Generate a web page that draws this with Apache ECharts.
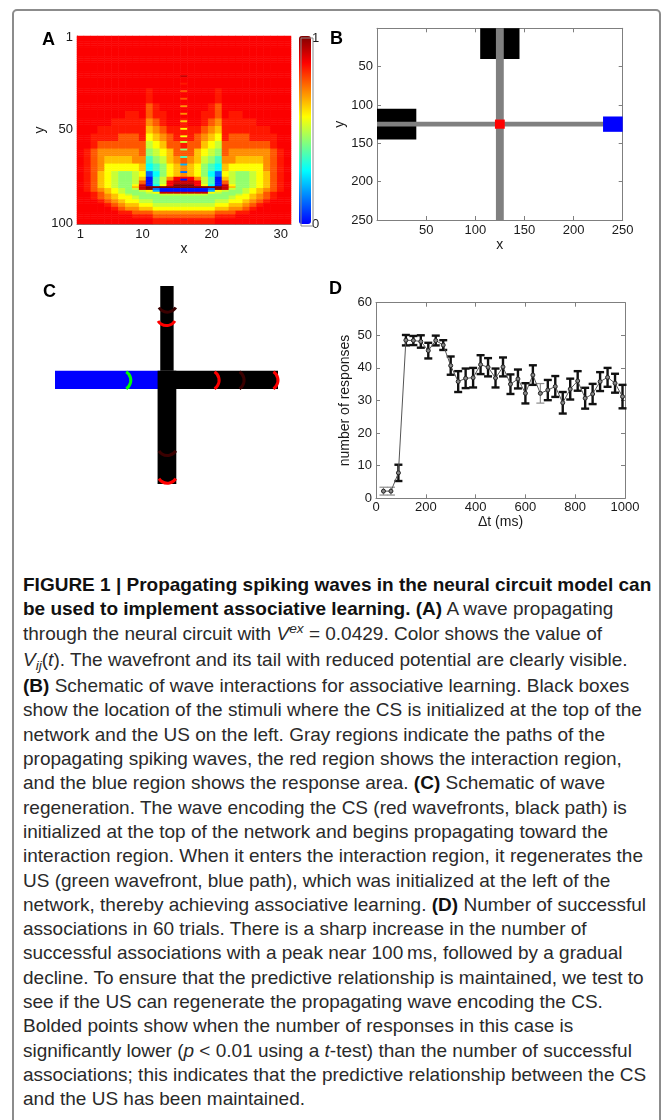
<!DOCTYPE html>
<html>
<head>
<meta charset="utf-8">
<script src="https://cdn.jsdelivr.net/npm/echarts@6/dist/echarts.min.js"></script>
<style>
html,body{margin:0;padding:0;background:#fff;width:671px;height:1120px;overflow:hidden;}
#frame{position:absolute;left:12px;top:9px;width:645px;height:1160px;border:2px solid #8c8c8c;border-radius:5px;}
#container{position:absolute;left:0;top:0;width:671px;height:560px;}
#caption{position:absolute;left:23px;top:573px;font-family:"Liberation Sans Narrow","Liberation Sans",Arial,sans-serif;font-size:19px;line-height:24.3px;color:#2a2a2a;white-space:nowrap;}
#caption b{font-weight:bold;color:#111;}
#caption .up{position:relative;top:-0.45em;font-size:0.72em;}
#caption .dn{position:relative;top:0.3em;font-size:0.72em;}
</style>
</head>
<body>
<div id="frame"></div>
<div id="container"></div>
<div id="caption">
<div><b>FIGURE 1 | Propagating spiking waves in the neural circuit model can</b></div>
<div><b>be used to implement associative learning. (A)</b> A wave propagating</div>
<div>through the neural circuit with <i>V</i><i class="up">ex</i> = 0.0429. Color shows the value of</div>
<div><i>V</i><i class="dn">ij</i>(<i>t</i>). The wavefront and its tail with reduced potential are clearly visible.</div>
<div><b>(B)</b> Schematic of wave interactions for associative learning. Black boxes</div>
<div>show the location of the stimuli where the CS is initialized at the top of the</div>
<div>network and the US on the left. Gray regions indicate the paths of the</div>
<div>propagating spiking waves, the red region shows the interaction region,</div>
<div>and the blue region shows the response area. <b>(C)</b> Schematic of wave</div>
<div>regeneration. The wave encoding the CS (red wavefronts, black path) is</div>
<div>initialized at the top of the network and begins propagating toward the</div>
<div>interaction region. When it enters the interaction region, it regenerates the</div>
<div>US (green wavefront, blue path), which was initialized at the left of the</div>
<div>network, thereby achieving associative learning. <b>(D)</b> Number of successful</div>
<div>associations in 60 trials. There is a sharp increase in the number of</div>
<div>successful associations with a peak near 100&#8201;ms, followed by a gradual</div>
<div>decline. To ensure that the predictive relationship is maintained, we test to</div>
<div>see if the US can regenerate the propagating wave encoding the CS.</div>
<div>Bolded points show when the number of responses in this case is</div>
<div>significantly lower (<i>p</i> &lt; 0.01 using a <i>t</i>-test) than the number of successful</div>
<div>associations; this indicates that the predictive relationship between the CS</div>
<div>and the US has been maintained.</div>
</div>
<script>
// ---------- panel A : V_ij(t) on a 31 x 100 grid ----------
// each row string covers y from heatRowStart[i] up to the next start
// letters are colour levels (see heatLevels), spaces only for reading
var heatRowStart = [1, 21, 25, 29, 33, 37, 41, 45, 49, 53, 57, 61, 65, 69, 73,
    76, 78, 80, 81, 82, 83, 84, 85, 86, 88, 90, 92, 94, 96, 98];
var heatRows = [
    'RRRRR RRRRR RRRRR R RRRRR RRRRR RRRRR',
    'RRRRR RRRRR RRRRR R RRRRR RRRRR RRRRR',
    'RRRRR RRRRR RRRRR R RRRRR RRRRR RRRRR',
    'RRRRR RRRRR rRRRR R RRRRr RRRRR RRRRR',
    'RRRRR RRRRR rRRRR R RRRRr RRRRR RRRRR',
    'RRRRR RRRRR orRRR R RRRro RRRRR RRRRR',
    'RRRRR RRrrR orrRR R RRrro RrrRR RRRRR',
    'RRRRR rrrrr OorRR r RRroO rrrrr RRRRR',
    'RRRrr rrrrr yOorr r rroOy rrrrr rrRRR',
    'RRrrr rooor YyOor r roOyY rooor rrrRR',
    'RRroo ooooo gYyoo r ooyYg ooooo oorRR',
    'RroOO OOOOo GgYyo o oyYgG oOOOO OOorR',
    'RroOy yyyOO cGgyO o OygGc OOyyy yOorR',
    'RroOY YYYYy CcGYy O yYGcC yYYYY YOorR',
    'RroyY gGGgY bCGYy O yYGCb YgGGg YyorR',
    'RroyY gGGgy BcgOR R ROgcB ygGGg YyorR',
    'RroyY gGGgo BcgRd d dRgcB ogGGg YyorR',
    'RroyY gGGYd BCYRD D DRYCB dYGGg YyorR',
    'RroyY gGGyd DDDDD D DDDDD dyGGg YyorR',
    'RroOy YgGgd DbBBB B BBBbD dgGgY yOorR',
    'RroOy YgGGg YlBBB B BBBlY gGGgY yOorR',
    'RRroy YgGGG gYddd d dddYg GGGgY yorRR',
    'RRroO yYgGG GGggg g gggGG GGgYy OorRR',
    'RRroO yYYgG GGGGG G GGGGG GgYYy OorRR',
    'RRRro OyYYg gGGGG G GGGGg gYYyO orRRR',
    'RRRRr oOyyY Ygggg g ggggY YyyOo rRRRR',
    'RRRRR roOOy yYYYY Y YYYYy yOOor RRRRR',
    'RRRRR Rrroo oOOOO O OOOOo oorrR RRRRR',
    'RRRRR RRRrr roooo o oooor rrRRR RRRRR',
    'RRRRR RRRRR Rrrrr r rrrrR RRRRR RRRRR'
];
// short dashes in the centre column (x = 16)
var heatDashX = 16;
var heatDashY = [22, 26, 30, 34, 38, 42, 46, 50, 54, 57, 61, 65, 69, 73, 77];
var heatDashCode = 'drooOOyYYgGclbB';
var heatLevels = {B: 0.02, b: 0.12, l: 0.2, C: 0.29, c: 0.36, G: 0.45, g: 0.51, Y: 0.57,
    y: 0.64, O: 0.70, o: 0.76, r: 0.83, R: 0.86, d: 0.92, D: 1.0};
var jetColors = ['#0000ff', '#0080ff', '#00ffff', '#80ff80', '#ffff00', '#ff8000', '#ff0000', '#800000'];
var aTickX = ['1', '10', '20', '30'];
var aTickY = ['1', '50', '100'];

// ---------- panel B : network schematic (x0, y0, x1, y1) ----------
var bStimuli = [[105, 0, 145, 40], [0, 105, 40, 145]];
var bPaths = [[0, 122, 232, 128], [121, 0, 129, 250]];
var bInteraction = [[120, 119, 130, 131]];
var bResponse = [[230, 115, 250, 135]];

// ---------- panel C : wave regeneration (x0, y0, x1, y1) ----------
var cBluePath = [[0, 107, 118, 130]];
var cBlackPath = [[118, 107, 250, 130], [118, 0, 133, 107], [115, 107, 136, 250]];
// fronts: tip x, tip y, direction the front is moving (deg)
var cRedFronts = [[125, 50, 90], [184, 119, 0], [250, 119, 0], [126, 249, 90]];
var cGreenFronts = [[85, 119, 0]];
var cFaintFronts = [[126, 33, 90], [212, 119, 0], [126, 214, 90]];

// ---------- panel D : number of responses ----------
var dTime = [30, 60, 90, 120, 150, 180, 210, 240, 270, 300, 330, 360, 390, 420, 450, 480, 510,
    540, 570, 600, 630, 660, 690, 720, 750, 780, 810, 840, 870, 900, 930, 960, 990];
var dMean = [2.2, 2.2, 7.8, 48.5, 48.4, 48.1, 45.3, 48.4, 47.0, 40.7, 35.8, 36.8, 37.0, 41.0, 40.2, 36.9, 40.3,
    35.0, 36.6, 32.2, 37.8, 32.2, 33.2, 34.3, 29.3, 33.5, 36.0, 30.7, 32.0, 35.8, 37.1, 35.3, 31.2];
var dErr = [1.2, 1.2, 2.5, 1.6, 1.4, 1.9, 2.4, 1.5, 1.5, 2.8, 3.2, 3.0, 3.0, 2.9, 2.8, 2.9, 2.9,
    3.0, 2.9, 3.1, 3.0, 3.0, 3.1, 3.2, 3.3, 3.2, 3.0, 3.2, 3.1, 2.9, 2.9, 2.9, 3.6];
var dBold = [0, 0, 1, 1, 1, 1, 1, 1, 1, 1, 1, 1, 1, 1, 1, 1, 1,
    1, 1, 1, 1, 0, 1, 1, 1, 1, 1, 1, 1, 1, 1, 1, 1];

// ---------- build series data ----------
var xCats = [], yCats = [];
for (var i = 1; i <= 31; i++) xCats.push(String(i));
for (i = 1; i <= 100; i++) yCats.push(String(i));

var heatData = [];
var r = 0;
for (var y = 1; y <= 100; y++) {
    while (r + 1 < heatRowStart.length && heatRowStart[r + 1] <= y) r++;
    var row = heatRows[r].replace(/ /g, '');
    for (var x = 0; x < 31; x++) {
        heatData.push([x, y - 1, heatLevels[row.charAt(x)]]);
    }
}
for (i = 0; i < heatDashY.length; i++) {
    heatData[(heatDashY[i] - 1) * 31 + heatDashX - 1][2] = heatLevels[heatDashCode.charAt(i)];
}

var dLine = [], dBarsBold = [], dBarsThin = [];
for (i = 0; i < dTime.length; i++) {
    dLine.push([dTime[i], dMean[i]]);
    var bar = [dTime[i], dMean[i] - dErr[i], dMean[i] + dErr[i]];
    if (dBold[i]) dBarsBold.push(bar); else dBarsThin.push(bar);
}

// ---------- drawing helpers ----------
function rectSeries(data, color, axis) {
    return {
        type: 'custom', xAxisIndex: axis, yAxisIndex: axis, data: data, silent: true,
        renderItem: function (params, api) {
            var p0 = api.coord([api.value(0), api.value(1)]);
            var p1 = api.coord([api.value(2), api.value(3)]);
            return {
                type: 'rect',
                shape: {x: Math.min(p0[0], p1[0]), y: Math.min(p0[1], p1[1]),
                    width: Math.abs(p1[0] - p0[0]), height: Math.abs(p1[1] - p0[1])},
                style: {fill: color}
            };
        }
    };
}
function frontSeries(data, color, lw) {
    return {
        type: 'custom', xAxisIndex: 3, yAxisIndex: 3, data: data, silent: true,
        renderItem: function (params, api) {
            var p = api.coord([api.value(0), api.value(1)]);
            var a = api.value(2) * Math.PI / 180;
            var rad = 10, half = 1.0;
            return {
                type: 'arc',
                shape: {cx: p[0] - rad * Math.cos(a), cy: p[1] - rad * Math.sin(a), r: rad,
                    startAngle: a - half, endAngle: a + half, clockwise: true},
                style: {stroke: color, lineWidth: lw, fill: null}
            };
        }
    };
}
function errSeries(data, color, lw) {
    return {
        type: 'custom', xAxisIndex: 4, yAxisIndex: 4, data: data, silent: true, z: 3,
        renderItem: function (params, api) {
            var lo = api.coord([api.value(0), api.value(1)]);
            var hi = api.coord([api.value(0), api.value(2)]);
            var w = 4;
            var st = {stroke: color, lineWidth: lw};
            return {
                type: 'group', children: [
                    {type: 'line', shape: {x1: lo[0], y1: lo[1], x2: hi[0], y2: hi[1]}, style: st},
                    {type: 'line', shape: {x1: lo[0] - w, y1: lo[1], x2: lo[0] + w, y2: lo[1]}, style: st},
                    {type: 'line', shape: {x1: hi[0] - w, y1: hi[1], x2: hi[0] + w, y2: hi[1]}, style: st}
                ]
            };
        }
    };
}

var FONT = 'Liberation Sans';
var AX = '#7f7f7f';
function axis(o) {
    var a = {
        axisLine: {show: true, onZero: false, lineStyle: {color: AX, width: 1}},
        axisTick: {show: true, inside: true, length: 4, lineStyle: {color: AX}},
        axisLabel: {color: '#1a1a1a', fontSize: 13, fontFamily: FONT, margin: 4},
        splitLine: {show: false},
        nameLocation: 'middle',
        nameTextStyle: {color: '#1a1a1a', fontSize: 14, fontFamily: FONT}
    };
    for (var k in o) {
        if (a[k] && typeof a[k] === 'object' && typeof o[k] === 'object' && !Array.isArray(o[k])) {
            for (var j in o[k]) a[k][j] = o[k][j];
        } else {
            a[k] = o[k];
        }
    }
    return a;
}
function showX(idx, val) { return aTickX.indexOf(val) >= 0; }
function showY(idx, val) { return aTickY.indexOf(val) >= 0; }
function noZero(v) { return v === 0 ? '' : String(v); }
function plain(v) { return String(v); }

var dom = document.getElementById('container');
var myChart = echarts.init(dom, null, {renderer: 'canvas'});
var option = {
    animation: false,
    grid: [
        {left: 77, top: 36, width: 214, height: 188},
        {left: 377, top: 28.3, width: 245.7, height: 191.7},
        {left: 55, top: 286, width: 223, height: 198},
        {left: 376, top: 302.7, width: 249, height: 195.6}
    ],
    xAxis: [
        axis({gridIndex: 0, type: 'category', data: xCats, name: 'x', nameGap: 17,
            axisLabel: {interval: showX}, axisTick: {alignWithLabel: true, interval: showX}}),
        axis({gridIndex: 1, type: 'value', min: 0, max: 250, interval: 50, name: 'x', nameGap: 17,
            axisLabel: {formatter: noZero}}),
        axis({gridIndex: 1, type: 'value', min: 0, max: 250, interval: 50, position: 'top',
            axisLabel: {show: false}}),
        {gridIndex: 2, type: 'value', min: 0, max: 250, show: false},
        axis({gridIndex: 3, type: 'value', min: 0, max: 1000, interval: 200, name: '\u0394t (ms)', nameGap: 15,
            axisLabel: {margin: 3, formatter: plain}}),
        axis({gridIndex: 3, type: 'value', min: 0, max: 1000, interval: 200, position: 'top',
            axisLabel: {show: false}})
    ],
    yAxis: [
        axis({gridIndex: 0, type: 'category', data: yCats, inverse: true, name: 'y', nameGap: 30,
            axisLabel: {interval: showY}, axisTick: {alignWithLabel: true, interval: showY}}),
        axis({gridIndex: 1, type: 'value', min: 0, max: 250, interval: 50, inverse: true, name: 'y', nameGap: 30,
            axisLabel: {formatter: noZero}}),
        axis({gridIndex: 1, type: 'value', min: 0, max: 250, interval: 50, inverse: true, position: 'right',
            axisLabel: {show: false}}),
        {gridIndex: 2, type: 'value', min: 0, max: 250, inverse: true, show: false},
        axis({gridIndex: 3, type: 'value', min: 0, max: 60, interval: 10, name: 'number of responses', nameGap: 24}),
        axis({gridIndex: 3, type: 'value', min: 0, max: 60, interval: 10, position: 'right',
            axisLabel: {show: false}})
    ],
    visualMap: {
        type: 'continuous', seriesIndex: 0, min: 0, max: 1, orient: 'vertical',
        left: 299, top: 36, itemWidth: 12, itemHeight: 188, padding: 0,
        calculable: false, hoverLink: false, text: null, showLabel: false,
        inRange: {color: jetColors}
    },
    graphic: [
        {type: 'rect', left: 298.5, top: 35.5, shape: {width: 12, height: 188}, z: 100,
            style: {fill: null, stroke: '#8a8a8a', lineWidth: 1}},
        {type: 'text', left: 312, top: 32, style: {text: '1', font: '13px Liberation Sans', fill: '#1a1a1a'}},
        {type: 'text', left: 312, top: 218, style: {text: '0', font: '13px Liberation Sans', fill: '#1a1a1a'}},
        {type: 'text', left: 42, top: 31, style: {text: 'A', font: 'bold 18px Liberation Sans', fill: '#000'}},
        {type: 'text', left: 330, top: 30, style: {text: 'B', font: 'bold 18px Liberation Sans', fill: '#000'}},
        {type: 'text', left: 43, top: 283, style: {text: 'C', font: 'bold 18px Liberation Sans', fill: '#000'}},
        {type: 'text', left: 329, top: 280, style: {text: 'D', font: 'bold 18px Liberation Sans', fill: '#000'}}
    ],
    series: [
        {
            type: 'heatmap', xAxisIndex: 0, yAxisIndex: 0, data: heatData,
            progressive: 0, silent: true, itemStyle: {borderWidth: 0}
        },
        rectSeries(bStimuli, '#000000', 1),
        rectSeries(bPaths, '#808080', 1),
        rectSeries(bInteraction, '#ff0000', 1),
        rectSeries(bResponse, '#0000ff', 1),
        rectSeries(cBluePath, '#0000ff', 3),
        rectSeries(cBlackPath, '#000000', 3),
        frontSeries(cFaintFronts, '#3a0000', 3),
        frontSeries(cRedFronts, '#ff0000', 3),
        frontSeries(cGreenFronts, '#00ff00', 3),
        {
            type: 'line', xAxisIndex: 4, yAxisIndex: 4, data: dLine, silent: true,
            symbol: 'circle', symbolSize: 4,
            lineStyle: {color: '#555555', width: 1},
            itemStyle: {color: '#888888', borderColor: '#222222', borderWidth: 1}
        },
        errSeries(dBarsThin, '#8c8c8c', 1.2),
        errSeries(dBarsBold, '#111111', 2.4)
    ]
};
if (option && typeof option === 'object') {
    myChart.setOption(option, true);
}
</script>
</body>
</html>
